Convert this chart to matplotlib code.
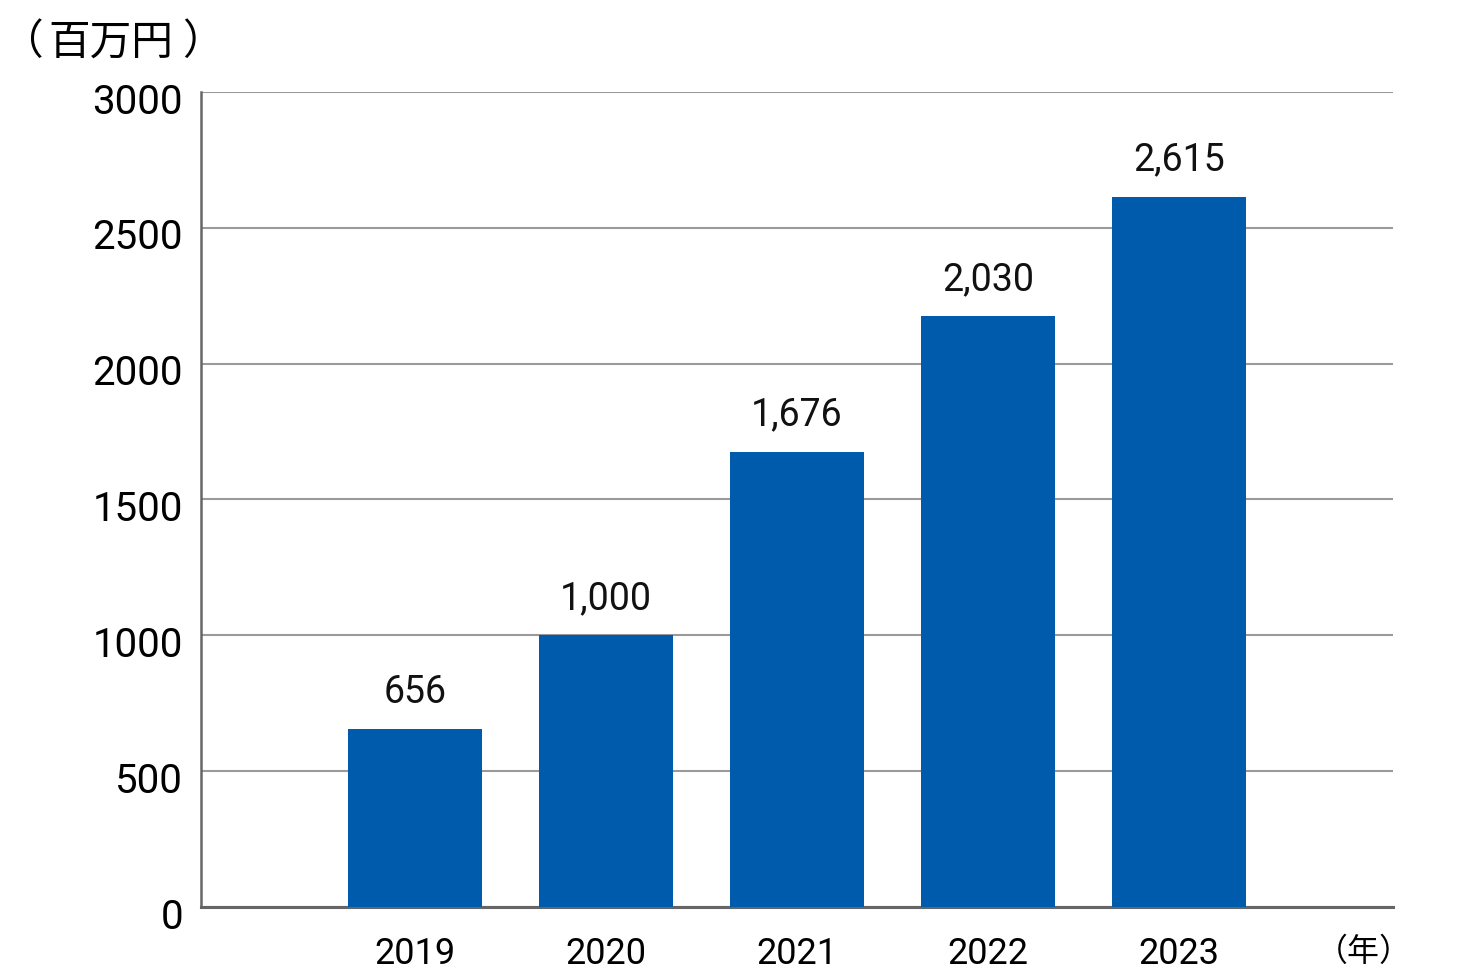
import matplotlib.pyplot as plt
from matplotlib.transforms import ScaledTranslation

years = ['2019', '2020', '2021', '2022', '2023']
heights = [656, 1000, 1676, 2175, 2615]
value_labels = ['656', '1,000', '1,676', '2,030', '2,615']
yticks = [0, 500, 1000, 1500, 2000, 2500, 3000]

plt.rcParams['font.family'] = ['Roboto', 'Noto Sans CJK JP', 'DejaVu Sans']
jp = ['Noto Sans CJK JP', 'DejaVu Sans']

fig = plt.figure(figsize=(14.68, 9.8), dpi=100)
ax = fig.add_axes([201 / 1468, 1 - 907 / 980, (1393 - 201) / 1468, (907 - 92) / 980])

x = list(range(len(years)))
bars = ax.bar(x, heights, width=0.70, color='#005BAC', zorder=3)
for b, lab in zip(bars, value_labels):
    ax.text(b.get_x() + b.get_width() / 2, b.get_height() + 66, lab,
            ha='center', va='bottom', fontsize=27, color='#111111')

ax.set_xlim(-1.12, 4 + 214 / 191)
ax.set_ylim(0, 3000)
ax.set_yticks(yticks)
ax.set_yticklabels([str(v) for v in yticks], fontsize=29)
ax.set_xticks(x + [4.97])
ax.set_xticklabels(years + ['（年）'], fontsize=26)
ax.get_xticklabels()[-1].set_fontfamily(jp)
ax.get_xticklabels()[-1].set_fontsize(23)
ax.tick_params(axis='y', length=0, pad=13)
ax.tick_params(axis='x', length=0, pad=21)

# y labels sit a little below their gridlines in the original
shift = ScaledTranslation(0, -6 / 100, fig.dpi_scale_trans)
for t in ax.get_yticklabels():
    t.set_transform(t.get_transform() + shift)

ax.grid(axis='y', color='#9a9a9a', linewidth=1.5, zorder=0)
for s in ['top', 'right']:
    ax.spines[s].set_visible(False)
ax.spines['left'].set_color('#666666')
ax.spines['bottom'].set_color('#666666')
ax.spines['left'].set_linewidth(1.8)
ax.spines['bottom'].set_linewidth(2.2)

# unit label, spaced out like the original
ty = 1 - 43 / 980
fig.text(1 / 1468, ty, '（', fontsize=30, va='center', ha='left', family=jp)
fig.text(48 / 1468, ty, '百万円', fontsize=30, va='center', ha='left', family=jp)
fig.text(182 / 1468, ty, '）', fontsize=30, va='center', ha='left', family=jp)

fig.savefig('out.png', dpi=100, facecolor='white')
